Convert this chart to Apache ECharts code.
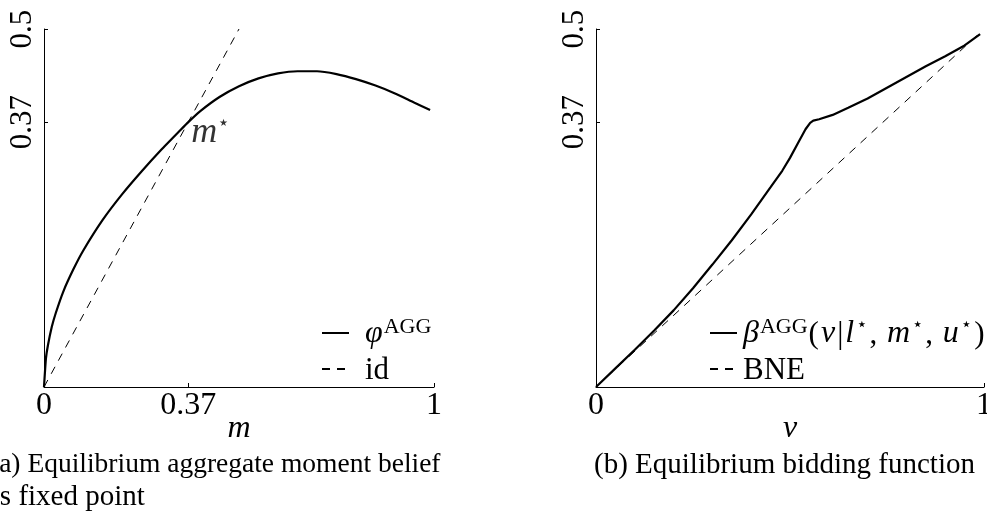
<!DOCTYPE html>
<html>
<head>
<meta charset="utf-8">
<script src="https://cdn.jsdelivr.net/npm/echarts@6/dist/echarts.min.js"></script>
<style>
  html, body { margin: 0; padding: 0; background: #fff; }
  #chart { width: 987px; height: 511px; }
</style>
</head>
<body>
<div id="chart"></div>
<script>
// (a) aggregate moment belief
const mValues = [0, 0.005, 0.01, 0.02, 0.03, 0.05, 0.075, 0.1, 0.15, 0.2, 0.25, 0.3, 0.35, 0.37, 0.4, 0.45, 0.5, 0.55, 0.6, 0.65, 0.7, 0.75, 0.8, 0.85, 0.9, 0.95, 0.99]
const phiValues = [0, 0.04, 0.058, 0.084, 0.103, 0.134, 0.164, 0.19, 0.233, 0.269, 0.301, 0.331, 0.359, 0.37, 0.385, 0.405, 0.42, 0.431, 0.438, 0.441, 0.441, 0.437, 0.43, 0.421, 0.41, 0.397, 0.387]
const idM = [0, 0.5]
const idValues = [0, 0.5]
const mStar = [0.37, 0.37]

// (b) bidding function
const vValues = [0, 0.05, 0.1, 0.15, 0.2, 0.25, 0.3, 0.35, 0.4, 0.45, 0.48, 0.5, 0.52, 0.54, 0.552, 0.56, 0.575, 0.61, 0.65, 0.7, 0.75, 0.8, 0.85, 0.9, 0.95, 0.99]
const betaValues = [0, 0.026, 0.052, 0.079, 0.107, 0.138, 0.171, 0.205, 0.241, 0.279, 0.302, 0.32, 0.34, 0.36, 0.369, 0.372, 0.374, 0.38, 0.39, 0.403, 0.418, 0.433, 0.448, 0.462, 0.477, 0.493]
const bneV = [0, 0.99]
const bneValues = [0, 0.495]

const xTicksA = [0, 0.37, 1]
const xTicksB = [0, 1]
const yTicks = [0.37, 0.5]

const serif = 'Liberation Serif'
const zip = (xs, ys) => xs.map((x, i) => [x, ys[i]])

const chart = echarts.init(document.getElementById('chart'))

const axisCommon = {
  type: 'value',
  min: 0,
  splitLine: { show: false },
  axisLine: { show: true, lineStyle: { color: '#000', width: 1 } },
  axisTick: { show: true, inside: true, length: 4, lineStyle: { color: '#000' } }
}

function xAxis(grid, ticks, name) {
  return Object.assign({}, axisCommon, {
    gridIndex: grid,
    max: 1,
    name: name,
    nameLocation: 'middle',
    nameGap: 26,
    nameMoveOverlap: false,
    nameTextStyle: { fontFamily: serif, fontStyle: 'italic', fontSize: 32, color: '#000', verticalAlign: 'top' },
    axisTick: Object.assign({}, axisCommon.axisTick, { customValues: ticks }),
    axisLabel: { customValues: ticks, fontFamily: serif, fontSize: 32, color: '#000', margin: 3,
      alignMinLabel: 'center', alignMaxLabel: 'center', formatter: v => String(v) }
  })
}

function yAxis(grid) {
  return Object.assign({}, axisCommon, {
    gridIndex: grid,
    max: 0.5,
    axisTick: Object.assign({}, axisCommon.axisTick, { customValues: yTicks }),
    axisLabel: { customValues: yTicks, rotate: 90, fontFamily: serif, fontSize: 31, color: '#000', margin: 6,
      formatter: v => String(v) }
  })
}

const rich = {
  i: { fontFamily: serif, fontStyle: 'italic', fontSize: 32, color: '#000', lineHeight: 34, verticalAlign: 'bottom', padding: [0, 1] },
  n: { fontFamily: serif, fontSize: 31, color: '#000', lineHeight: 34, verticalAlign: 'bottom', padding: [0, 1] },
  s: { fontFamily: serif, fontSize: 22, color: '#000', lineHeight: 34, verticalAlign: 'top' },
  st: { fontFamily: 'DejaVu Sans', fontSize: 18, color: '#000', lineHeight: 34, verticalAlign: 'top', padding: [0, 1] },
  m: { fontFamily: serif, fontStyle: 'italic', fontSize: 36, color: '#000', lineHeight: 36, verticalAlign: 'bottom' },
  ms: { fontFamily: 'DejaVu Sans', fontSize: 20, color: '#000', lineHeight: 36, verticalAlign: 'top' }
}

function legend(name, left, top, label, pad) {
  return {
    data: [name], left: left, top: top, orient: 'vertical',
    itemWidth: 27, itemHeight: 14, padding: 0,
    selectedMode: false,
    itemStyle: { opacity: 0 },
    formatter: () => label,
    textStyle: { rich: rich, padding: [0, 0, 0, pad] }
  }
}

const option = {
  animation: false,
  grid: [
    { left: 44, right: 553, top: 29, bottom: 124, outerBoundsMode: 'none' },
    { left: 596, right: 3, top: 29, bottom: 124, outerBoundsMode: 'none' }
  ],
  xAxis: [xAxis(0, xTicksA, 'm'), xAxis(1, xTicksB, 'v')],
  yAxis: [yAxis(0), yAxis(1)],
  legend: [
    legend('phi', 321, 316, '{i|φ}{s|AGG}', 10),
    legend('id', 321, 355, '{n|id}', 10),
    legend('beta', 709, 316, '{i|β}{s|AGG}{n|(}{i|v}{n||}{i|l}{st|⋆}{n|, }{i|m}{st|⋆}{n|, }{i|u}{st|⋆}{n|)}', 0),
    legend('BNE', 709, 355, '{n|BNE}', 0)
  ],
  series: [
    {
      name: 'phi', type: 'line', xAxisIndex: 0, yAxisIndex: 0,
      data: zip(mValues, phiValues), smooth: 0.2, symbol: 'none',
      lineStyle: { color: '#000', width: 2.2 }, itemStyle: { color: '#000' }
    },
    {
      name: 'id', type: 'line', xAxisIndex: 0, yAxisIndex: 0,
      data: zip(idM, idValues), symbol: 'none',
      lineStyle: { color: '#000', width: 1, type: [8, 7] }, itemStyle: { color: '#000' }
    },
    {
      name: 'mstar', type: 'scatter', xAxisIndex: 0, yAxisIndex: 0,
      data: [mStar], symbolSize: 0,
      label: { show: true, position: 'right', offset: [-2, 10], formatter: () => '{m|m}{ms|⋆}', rich: rich }
    },
    {
      name: 'beta', type: 'line', xAxisIndex: 1, yAxisIndex: 1,
      data: zip(vValues, betaValues), symbol: 'none',
      lineStyle: { color: '#000', width: 2.2 }, itemStyle: { color: '#000' }
    },
    {
      name: 'BNE', type: 'line', xAxisIndex: 1, yAxisIndex: 1,
      data: zip(bneV, bneValues), symbol: 'none',
      lineStyle: { color: '#000', width: 1, type: [8, 7] }, itemStyle: { color: '#000' }
    }
  ],
  graphic: [
    { type: 'text', left: -10, top: 451, style: { text: '(a) Equilibrium aggregate moment belief', font: '27.5px "Liberation Serif"', fill: '#000' } },
    { type: 'text', left: -13, top: 483, style: { text: 'as fixed point', font: '29px "Liberation Serif"', fill: '#000' } },
    { type: 'text', left: 594, top: 451, style: { text: '(b) Equilibrium bidding function', font: '29px "Liberation Serif"', fill: '#000' } }
  ]
}

chart.setOption(option)
</script>
</body>
</html>
